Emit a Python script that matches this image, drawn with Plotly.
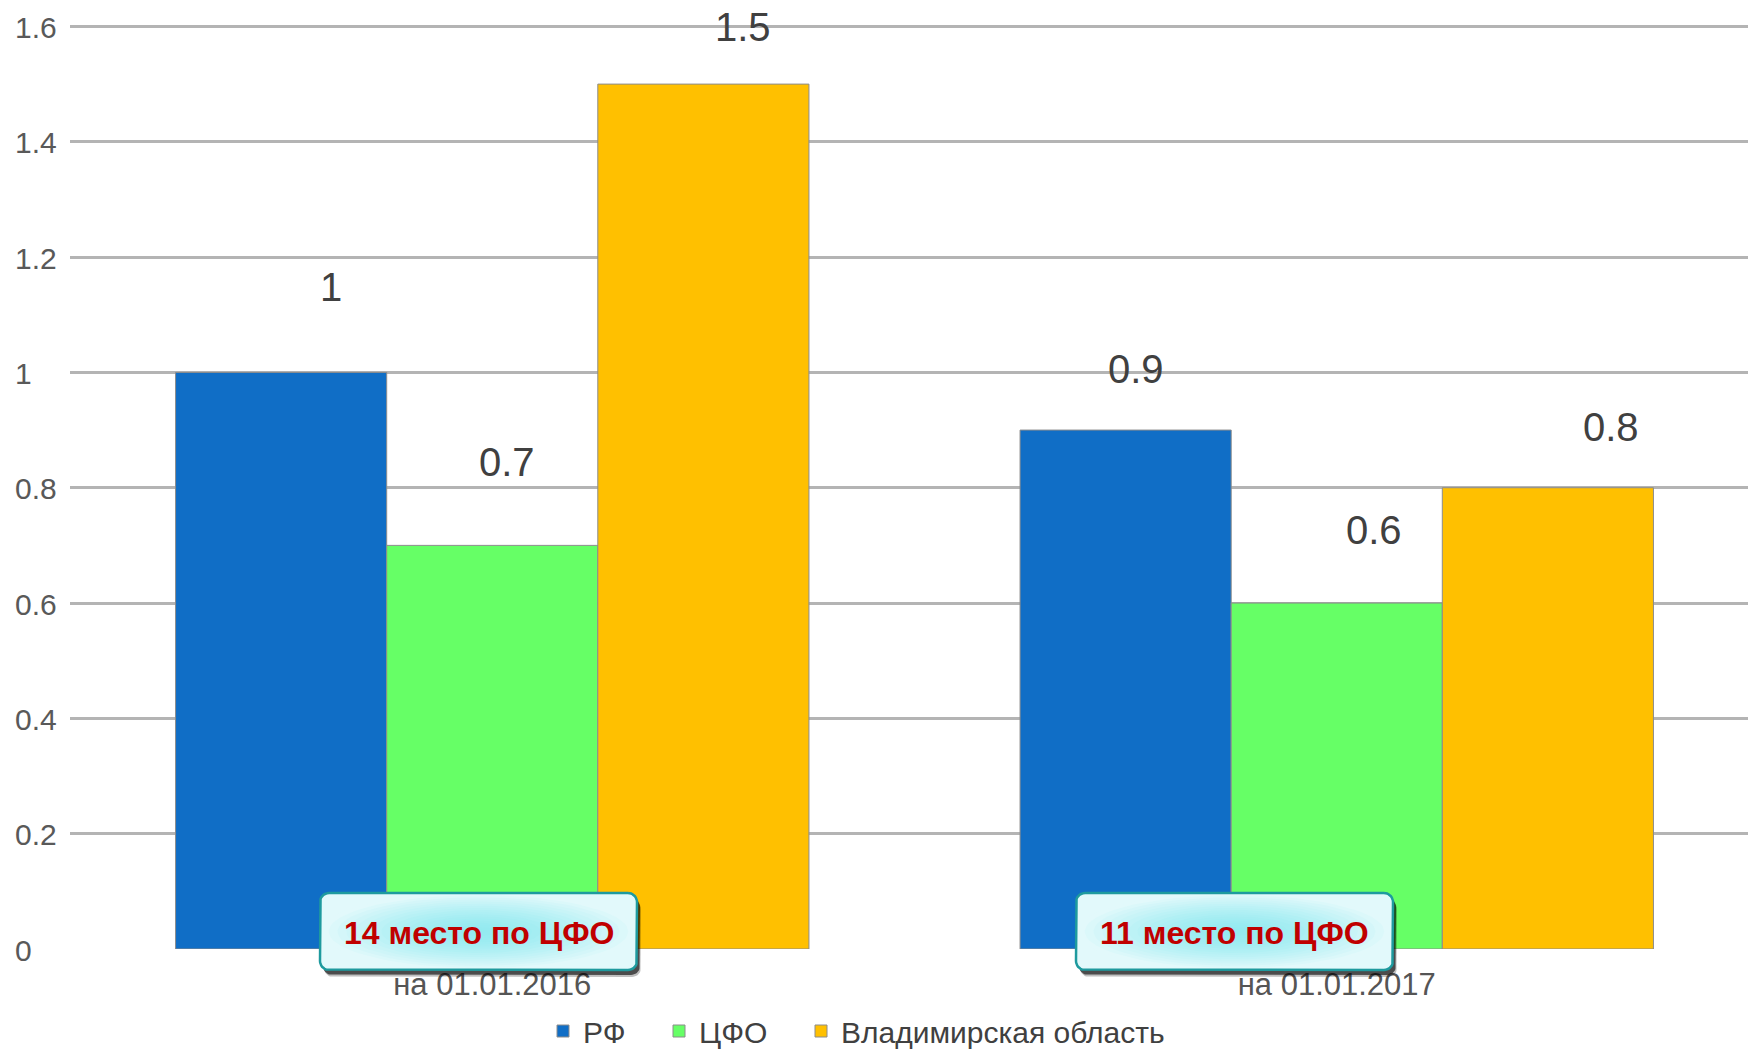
import numpy as np
import plotly.graph_objects as go

# ---------------- data ----------------
categories = ["на 01.01.2016", "на 01.01.2017"]
series_names = ["РФ", "ЦФО", "Владимирская область"]
rf_values = [1.0, 0.9]
cfo_values = [0.7, 0.6]
vlad_values = [1.5, 0.8]
rank_labels = ["14 место по ЦФО", "11 место по ЦФО"]
y_tick_values = [0, 0.2, 0.4, 0.6, 0.8, 1.0, 1.2, 1.4, 1.6]
y_tick_labels = ["0", "0.2", "0.4", "0.6", "0.8", "1", "1.2", "1.4", "1.6"]

series_values = [rf_values, cfo_values, vlad_values]

# ---------------- styles / positions ----------------
W, H = 1748, 1049
colors = ["#106EC6", "#66FF66", "#FFC000"]
FONT = "Liberation Sans, Arial, sans-serif"
# pixel offsets of the value labels (per series, per category)
label_dx = [[50, 10], [15, 37], [40, 63]]
label_dy = [[85, 61], [83, 73], [57, 61]]
# callout boxes in pixel coordinates (y downward)
boxes = [(320, 893, 637, 970), (1076, 893, 1393, 970)]
# legend entry left positions (px)
legend_x_px = [543, 659, 801]
legend_y_px = 1031

plot_left, plot_bottom = 70, 949
px_per_unit = 576.6
y_max = 1.606
plot_top = plot_bottom - y_max * px_per_unit
px_per_cat = 844.5
x_range_max = (W - plot_left) / px_per_cat - 0.5

fig = go.Figure()

legend_ids = ["legend", "legend2", "legend3"]
for name, vals, col, lg in zip(series_names, series_values, colors, legend_ids):
    fig.add_trace(go.Bar(
        x=categories, y=vals, name=name, legend=lg,
        marker=dict(color=col, line=dict(color="#8c8c8c", width=1)),
        hoverinfo="skip",
    ))

annotations = []
bar_w = 0.25
for si, vals in enumerate(series_values):
    for ci, v in enumerate(vals):
        annotations.append(dict(
            xref="x", yref="y", x=ci + (si - 1) * bar_w, y=v,
            text=f"{v:g}", showarrow=False,
            xanchor="center", yanchor="middle",
            xshift=label_dx[si][ci], yshift=label_dy[si][ci],
            font=dict(family=FONT, size=40, color="#404040"),
        ))

# left-aligned y tick labels
for tv, tl in zip(y_tick_values, y_tick_labels):
    annotations.append(dict(
        xref="paper", yref="y", x=13 / W, y=tv, text=tl, showarrow=False,
        xanchor="left", yanchor="middle", yshift=-1,
        font=dict(family=FONT, size=30, color="#595959"),
    ))


def rounded_rect(x0, y0, x1, y1, r, n=10):
    pts = []
    corners = [(x1 - r, y0 + r, -90, 0), (x1 - r, y1 - r, 0, 90),
               (x0 + r, y1 - r, 90, 180), (x0 + r, y0 + r, 180, 270)]
    for cx, cy, a0, a1 in corners:
        for a in np.linspace(np.radians(a0), np.radians(a1), n):
            pts.append((cx + r * np.cos(a), cy + r * np.sin(a)))
    pts.append(pts[0])
    xs, ys = zip(*pts)
    return list(xs), list(ys)


def mix(c1, c2, t):
    a = [int(c1[i:i + 2], 16) for i in (1, 3, 5)]
    b = [int(c2[i:i + 2], 16) for i in (1, 3, 5)]
    return "rgb(%d,%d,%d)" % tuple(round(a[i] + (b[i] - a[i]) * t) for i in range(3))


edge_col = "#E2F9FB"
center_col = "#92EAF0"
for (x0, y0, x1, y1), label in zip(boxes, rank_labels):
    # shadow
    for (dx, dy, op) in [(4, 7, 0.25), (3, 5, 0.6)]:
        xs, ys = rounded_rect(x0 + dx, y0 + dy, x1 + dx, y1 + dy, 9)
        fig.add_trace(go.Scatter(x=xs, y=ys, xaxis="x2", yaxis="y2", mode="lines",
                                 fill="toself", fillcolor=f"rgba(0,0,0,{op})",
                                 line=dict(width=0), showlegend=False, hoverinfo="skip"))
    # base
    xs, ys = rounded_rect(x0, y0, x1, y1, 9)
    fig.add_trace(go.Scatter(x=xs, y=ys, xaxis="x2", yaxis="y2", mode="lines",
                             fill="toself", fillcolor=edge_col,
                             line=dict(width=0), showlegend=False, hoverinfo="skip"))
    # radial gradient layers
    cx, cy = (x0 + x1) / 2, (y0 + y1) / 2
    a, b = (x1 - x0) / 2, (y1 - y0) / 2
    th = np.linspace(0, 2 * np.pi, 90)
    for k in np.linspace(1.0, 0.06, 18):
        fig.add_trace(go.Scatter(x=cx + k * a * np.cos(th), y=cy + k * b * np.sin(th),
                                 xaxis="x2", yaxis="y2", mode="lines", fill="toself",
                                 fillcolor=mix(center_col, edge_col, k ** 1.6),
                                 line=dict(width=0), showlegend=False, hoverinfo="skip"))
    # border
    fig.add_trace(go.Scatter(x=xs, y=ys, xaxis="x2", yaxis="y2", mode="lines",
                             line=dict(color="#1E9A9E", width=2.5),
                             showlegend=False, hoverinfo="skip"))
    annotations.append(dict(
        xref="x2", yref="y2", x=cx, y=cy + 1, text=f"<b>{label}</b>", showarrow=False,
        xanchor="center", yanchor="middle",
        font=dict(family=FONT, size=32, color="#C00000"),
    ))

legend_common = dict(orientation="h", xanchor="left", yanchor="middle",
                     y=(H - legend_y_px) / H,
                     font=dict(family=FONT, size=30, color="#404040"),
                     bgcolor="rgba(0,0,0,0)", borderwidth=0)

fig.update_layout(
    width=W, height=H,
    margin=dict(l=0, r=0, t=0, b=0, autoexpand=False),
    paper_bgcolor="white", plot_bgcolor="rgba(0,0,0,0)",
    barmode="group", bargap=0.25, bargroupgap=0,
    font=dict(family=FONT, color="#555555"),
    xaxis=dict(domain=[plot_left / W, 1], range=[-0.5, x_range_max],
               showgrid=False, zeroline=False, showline=False, ticks="",
               tickfont=dict(family=FONT, size=31, color="#555555"),
               ticklabelstandoff=14, automargin=False, fixedrange=True),
    yaxis=dict(domain=[(H - plot_bottom) / H, 1 - plot_top / H], range=[0, y_max],
               tickvals=y_tick_values, ticktext=y_tick_labels, showticklabels=False,
               showgrid=True, gridcolor="#B4B4B4", gridwidth=2.5,
               zeroline=True, zerolinecolor="white", zerolinewidth=4,
               showline=False, ticks="", automargin=False, fixedrange=True),
    xaxis2=dict(domain=[0, 1], range=[0, W], anchor="y2", visible=False, fixedrange=True),
    yaxis2=dict(domain=[0, 1], range=[H, 0], anchor="x2", visible=False, fixedrange=True),
    legend=dict(x=legend_x_px[0] / W, **legend_common),
    legend2=dict(x=legend_x_px[1] / W, **legend_common),
    legend3=dict(x=legend_x_px[2] / W, **legend_common),
    annotations=annotations,
    showlegend=True,
)

fig.write_html("out.html", config={"displayModeBar": False},
               post_script="document.body.style.margin='0px';document.body.style.overflow='hidden';")
